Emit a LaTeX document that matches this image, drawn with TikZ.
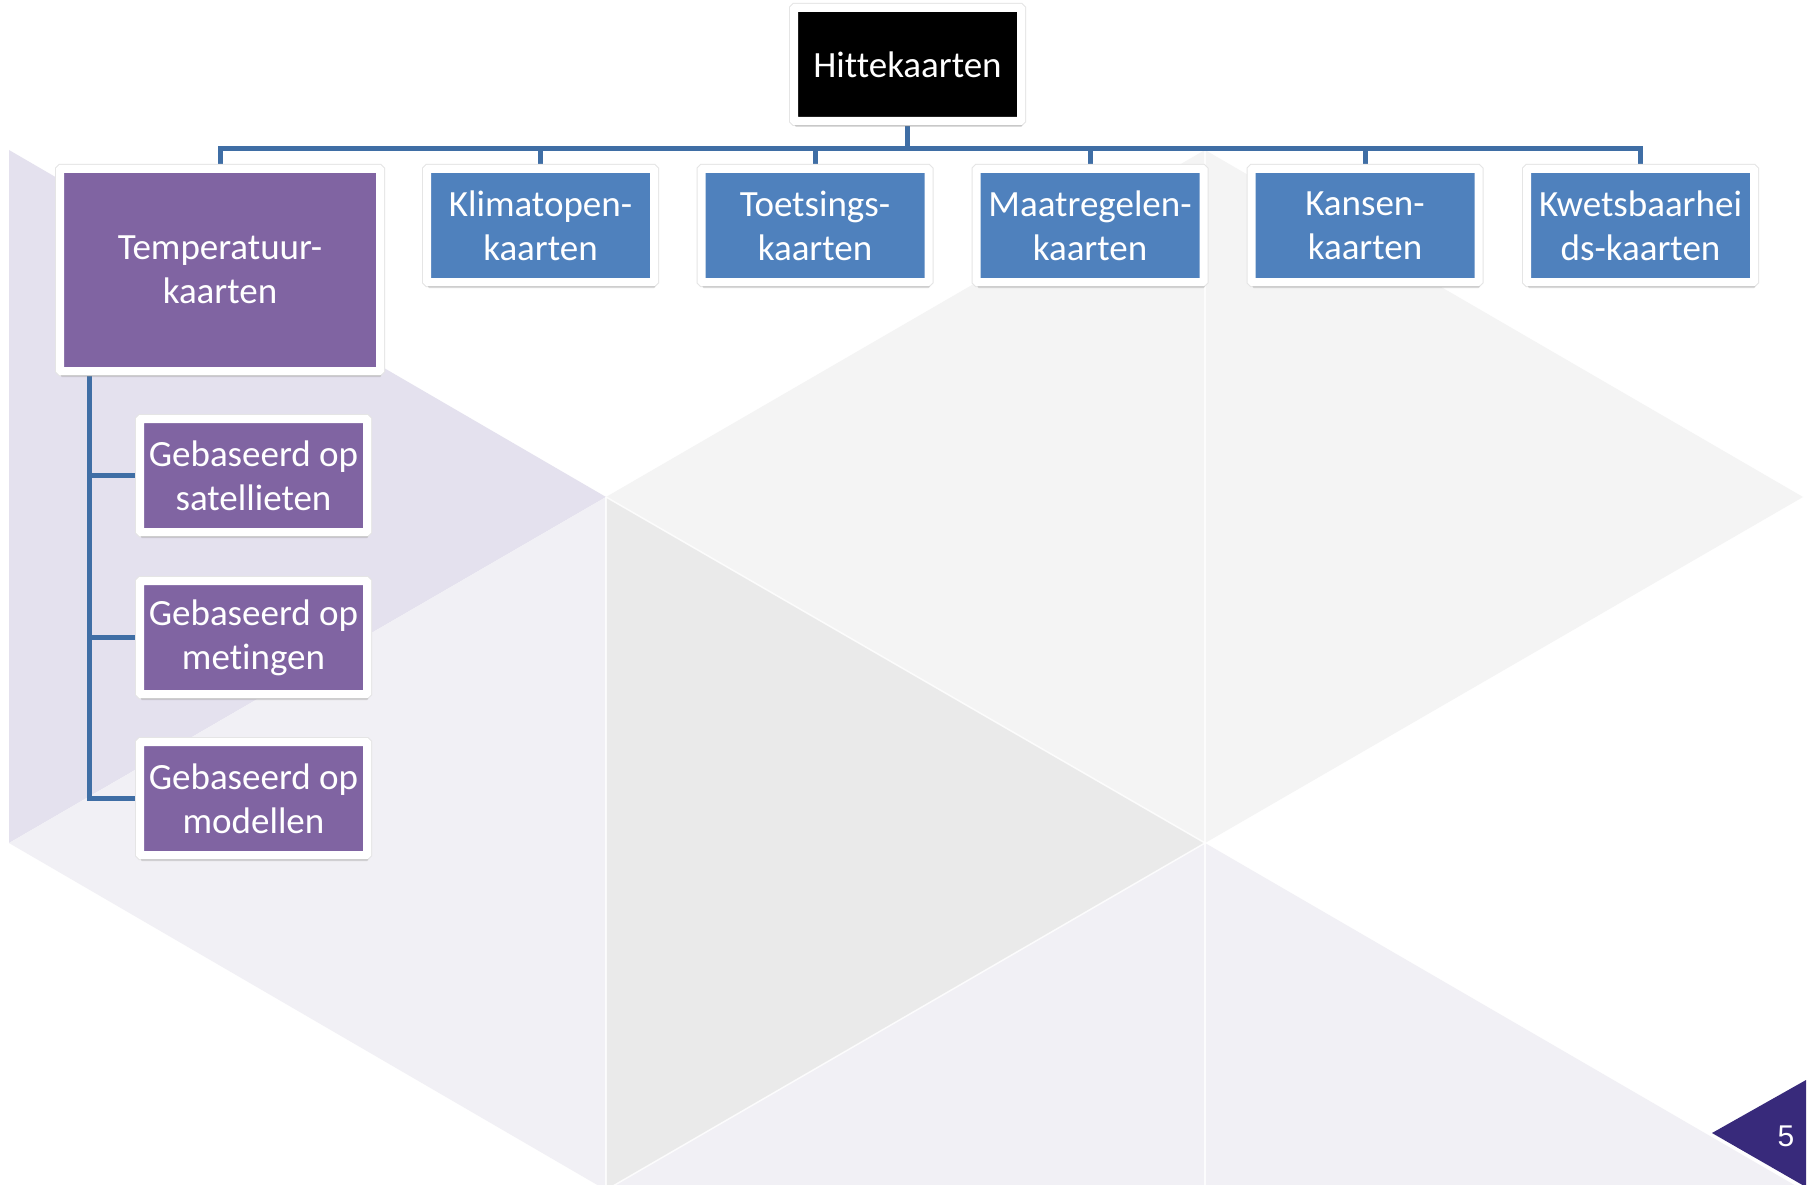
\documentclass[tikz,border=0pt]{standalone}
\usepackage{fontspec}
\setmainfont{Carlito}[Ligatures=NoCommon]
\newfontfamily\numfont{Liberation Sans}
\usetikzlibrary{shadows,calc}
\definecolor{boxblue}{HTML}{4F81BD}
\definecolor{boxpurple}{HTML}{8064A2}
\definecolor{connblue}{HTML}{3F6EA5}
\definecolor{lavdark}{HTML}{E4E1EE}
\definecolor{lavlight}{HTML}{F1F0F5}
\definecolor{greymid}{HTML}{EAEAEA}
\definecolor{greylight}{HTML}{F4F4F4}
\definecolor{slideind}{HTML}{382A7B}
\pgfdeclarelayer{bglayer}
\pgfdeclarelayer{connlayer}
\pgfsetlayers{bglayer,connlayer,main}
\begin{document}
\begin{tikzpicture}[x=1pt,y=-1pt,
  card/.style={draw=white, line width=8pt, rounded corners=1pt, inner sep=0pt,
    text=white, align=center, font=\fontsize{37}{44}\selectfont,
    minimum width=227pt, minimum height=113pt,
    preaction={draw=black!10, line width=10pt},
    drop shadow={opacity=0.28, shadow xshift=1pt, shadow yshift=-6pt}},
  conn/.style={draw=connblue, line width=5pt},
  seam/.style={draw=white, line width=1.5pt, opacity=0.8}]
\useasboundingbox (0,0) rectangle (1811,1185);
\begin{pgfonlayer}{bglayer}
\fill[white] (0,0) rectangle (1811,1185);
\fill[lavdark] (9,150) -- (606,497) -- (9,843) -- cycle;
\fill[lavlight] (606,497) -- (9,843) -- (606,1190) -- cycle;
\fill[greymid] (606,497) -- (1205,843) -- (606,1190) -- cycle;
\fill[greylight] (606,497) -- (1205,150) -- (1205,843) -- cycle;
\fill[greylight] (1205,150) -- (1803,497) -- (1205,843) -- cycle;
\fill[lavlight] (606,1190) -- (1205,843) -- (1205,1190) -- cycle;
\fill[lavlight] (1205,843) -- (1803,1190) -- (1205,1190) -- cycle;
\draw[seam] (606,497) -- (1205,843) -- (606,1190);
\draw[seam] (606,497) -- (606,1190);
\draw[seam] (1205,150) -- (1205,1190);
\end{pgfonlayer}

\node[card, fill=black] (hitte) at (907.5,64.5) {Hittekaarten};
\node[card, fill=boxpurple, minimum width=320pt, minimum height=202pt] (temp) at (220,270) {Temperatuur-\\kaarten};
\node[card, fill=boxblue] (klim) at (540.5,225.5) {Klimatopen-\\kaarten};
\node[card, fill=boxblue] (toets) at (815,225.5) {Toetsings-\\kaarten};
\node[card, fill=boxblue] (maat) at (1090,225.5) {Maatregelen-\\kaarten};
\node[card, fill=boxblue] (kans) at (1365,225.5) {Kansen-\\kaarten};
\node[card, fill=boxblue] (kwets) at (1640.5,225.5) {Kwetsbaarhei\\ds-kaarten};
\node[card, fill=boxpurple] (sat) at (253.5,475.5) {Gebaseerd op\\satellieten};
\node[card, fill=boxpurple] (met) at (253.5,637.5) {Gebaseerd op\\metingen};
\node[card, fill=boxpurple] (mod) at (253.5,798.5) {Gebaseerd op\\modellen};

\begin{pgfonlayer}{connlayer}
\coordinate (bus) at ($(hitte.south)+(0,24)$);
\foreach \c in {temp,klim,toets,maat,kans,kwets}
  \draw[conn] (hitte.south) -- (bus) -| (\c.north);
\coordinate (trunk) at ($(temp.south west)+(33,0)$);
\foreach \c in {sat,met,mod}
  \draw[conn] (trunk) |- (\c.west);
\end{pgfonlayer}

\fill[slideind] (1712,1133) -- (1806,1080) -- (1806,1187) -- cycle;
\node[text=white, font=\numfont\fontsize{30}{31}\selectfont, inner sep=0pt] (pnum) at (1786,1136) {5};
\end{tikzpicture}
\end{document}
